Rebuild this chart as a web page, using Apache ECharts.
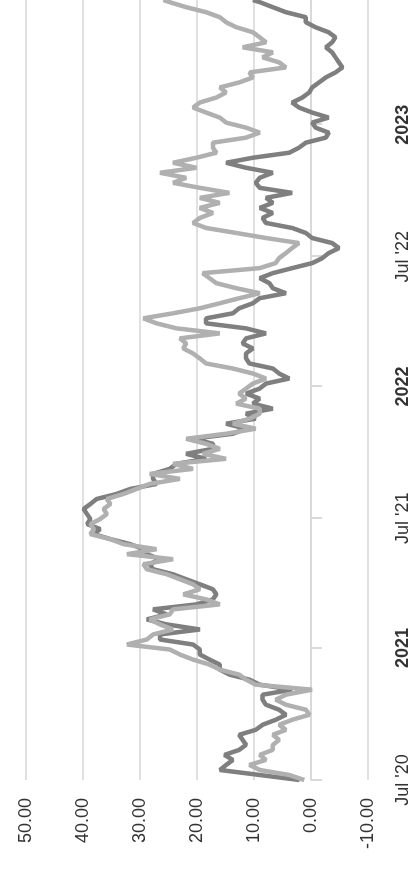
<!DOCTYPE html>
<html><head><meta charset="utf-8">
<script src="https://cdn.jsdelivr.net/npm/echarts@6/dist/echarts.min.js"></script>
<style>
html,body{margin:0;padding:0;background:#fff;overflow:hidden;width:415px;height:871px}
#chart{position:absolute;left:0;top:0;width:871px;height:415px;transform-origin:0 0;transform:translate(0,871px) rotate(-90deg);}
</style></head><body><div id="chart"></div>
<script>
// weekly samples starting 2020-07-01, last point at the end of the axis
const startDate = '2020-07-01';
const endDayOffset = 1088;
const darkSeries = [2,9,16,14.9,13.7,15.2,12.6,11.4,12,12.6,9.7,8.5,6.2,4.4,5.6,7.9,8.5,8.5,3.3,9,10.8,14.3,16,16,17.8,19.5,
  19.5,20.7,26.5,26.5,19.5,25.3,28.8,25.3,27.7,20.1,17.2,16.6,17.2,19.5,21.9,24.2,27.7,28.3,26.5,28.8,29.4,31.7,35.2,38.1,37,39.3,
  38.7,39.3,39.9,38.7,37.6,34.1,31.7,27.1,27.7,27.7,24.8,23.6,18.4,21.9,17.2,17.2,20.7,13.7,11.4,14.9,9.7,11.4,6.7,10.2,9,11.4,
  9,7.9,3.8,5.6,6.7,10.8,11.4,11.4,10.2,12,11.4,7.9,11.4,18.4,18.4,13.7,12.6,10.2,9,4.4,6.7,7.3,9,6.7,3.3,-0.2,
  -2,-3.1,-4.9,-3.7,-0.2,0.9,3.3,7.9,8.5,6.7,9,6.7,7.9,3.3,9,9.7,9,6.7,11.4,14.9,10.2,3.8,2.1,0.9,-2.6,-3.1,
  -0.8,-0.2,-3.1,-0.2,2.1,3.3,1.5,0.3,-0.2,-1.4,-2.6,-4.3,-5.5,-4.9,-4.3,-3.7,-2.6,-3.7,-4.3,-3.1,-0.8,0.9,0.9,4.4,6.7,9,10.2];
const lightSeries = [1.2,3.8,9,10.8,7.9,9,6.7,6.7,5.6,6.7,4.4,5.6,3.3,0.3,0.9,4.4,6.2,4.4,-0.2,9.7,11.4,12.6,16,17.8,20.7,23,
  24.8,32.3,28.8,27.7,24.2,26.5,28.3,24.8,24.2,16,18.4,22.4,19.5,20.7,23,25.3,28.8,29.4,24.2,32.3,27.1,32.9,35.2,38.7,38.1,38.7,
  37,35.8,36.4,35.2,35.8,32.9,30.6,28.3,23,28.3,20.7,24.2,14.9,19,16,18.4,21.9,14.9,9.7,13.7,10.8,9,9,13.1,11.4,12.6,
  11.4,10.2,7.9,10.2,13.7,18.4,19.5,20.7,22.4,21.9,23,16,23.6,27.1,29.4,24.2,19.5,16,12.6,9,13.1,16.6,17.8,19,9,6.2,
  5.6,4.4,3.3,2.1,7.9,13.1,18.4,20.7,19.5,17.2,19.5,16,19.5,14.3,19.5,24.2,21.9,26.5,20.1,24.2,20.1,16.6,17.2,17.2,11.4,9,
  11.4,14.9,16,18.4,20.7,19.5,16.6,14.9,16,12.6,10.2,10.8,4.4,5.6,8.5,6.7,12,7.9,9,10.2,13.1,14.9,16,18.4,21.9,24.8,25.9];
const tickDates = ['2020-07-01','2021-01-01','2021-07-01','2022-01-01','2022-07-01','2023-01-01'];
const tickLabels = ["Jul '20","2021","Jul '21","2022","Jul '22","2023"];
const tickIsYear = [false,true,false,true,false,true];
const valueMin = -10, valueMax = 50, valueStep = 10;

const DAY = 86400000;
function ts(s){const p=s.split('-').map(Number);return Date.UTC(p[0],p[1]-1,p[2]);}
const t0 = ts(startDate);
const xs = darkSeries.map((_, i) => i < darkSeries.length - 1 ? t0 + 7 * i * DAY : t0 + endDayOffset * DAY);
const tickTs = tickDates.map(ts);

const chart = echarts.init(document.getElementById('chart'), null, {renderer:'canvas'});
const font = '"Liberation Sans", Arial, sans-serif';
chart.setOption({
  animation:false,
  backgroundColor:'#fff',
  grid:{left:91,right:0,top:26,bottom:47,containLabel:false},
  xAxis:{
    type:'value', min:t0, max:t0+endDayOffset*DAY,
    axisLine:{show:true,lineStyle:{color:'#d9d9d9',width:2}},
    axisTick:{show:true,customValues:tickTs,length:11,lineStyle:{color:'#d9d9d9',width:2}},
    splitLine:{show:false},
    axisLabel:{
      customValues:tickTs, margin:26, fontSize:18, color:'#333', fontFamily:font,
      formatter:function(v){
        const i = tickTs.indexOf(v);
        if(i<0) return '';
        return tickIsYear[i] ? '{b|'+tickLabels[i]+'}' : tickLabels[i];
      },
      rich:{b:{fontWeight:'bold',fontSize:18,color:'#333',fontFamily:font}}
    }
  },
  yAxis:{
    type:'value', min:valueMin, max:valueMax, interval:valueStep,
    axisLine:{show:false}, axisTick:{show:false},
    splitLine:{show:true,lineStyle:{color:'#e0e0e0',width:2}},
    axisLabel:{margin:18,fontSize:18,color:'#333',fontFamily:font,formatter:function(v){return v.toFixed(2);}}
  },
  series:[
    {type:'line',data:xs.map((x,i)=>[x,darkSeries[i]]),showSymbol:false,lineStyle:{color:'#7f7f7f',width:4.5},itemStyle:{color:'#7f7f7f'}},
    {type:'line',data:xs.map((x,i)=>[x,lightSeries[i]]),showSymbol:false,lineStyle:{color:'#b0b0b0',width:4.5},itemStyle:{color:'#b0b0b0'}}
  ]
});
</script></body></html>
